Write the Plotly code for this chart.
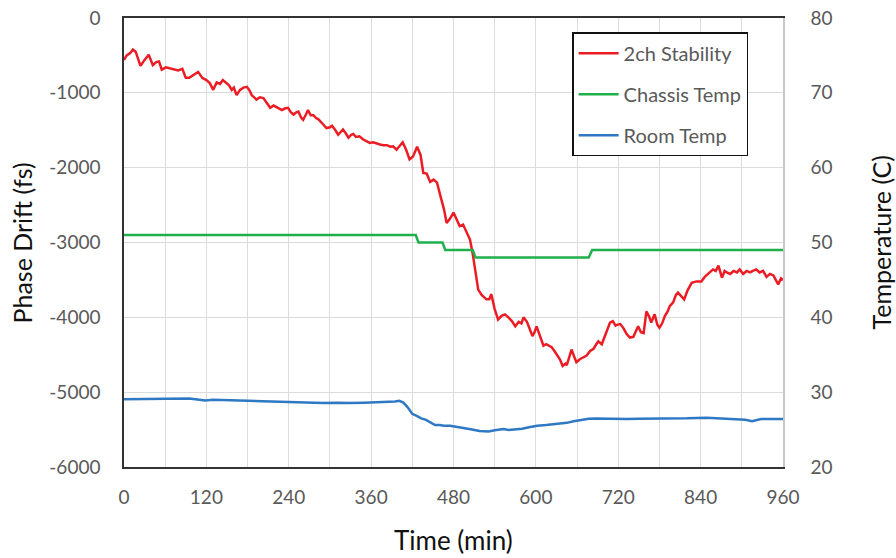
import plotly.graph_objects as go

# ---- data ----
stab_t = [0, 4, 9, 13, 17, 21, 24, 30, 36, 42, 47, 51, 55, 61, 67, 73, 79, 85, 90, 95,
          101, 108, 114, 120, 125, 130, 135, 140, 144, 149, 153, 157, 160, 164, 169, 174,
          179, 183, 186, 193, 198, 203, 208, 213, 218, 222, 226, 230, 234, 239, 243, 247,
          251, 254, 258, 261, 265, 268, 272, 276, 280, 283, 289, 295, 300, 303, 308, 312,
          316, 319, 323, 327, 331, 334, 338, 343, 348, 353, 358, 363, 368, 373, 378, 383,
          388, 392, 397, 402, 406, 411, 416, 421, 427, 432, 436, 441, 446, 451, 456, 461,
          466, 470, 475, 480, 484, 489, 494, 500, 504, 508, 511, 514, 516, 521, 528, 532,
          535, 540, 545, 550, 555, 560, 565, 570, 575, 579, 582, 587, 591, 595, 598, 601,
          606, 611, 615, 619, 623, 627, 630, 635, 639, 643, 645, 649, 652, 656, 659, 664,
          669, 674, 679, 684, 688, 691, 696, 701, 705, 708, 712, 716, 718, 723, 728, 732,
          737, 742, 746, 749, 753, 757, 761, 765, 768, 773, 777, 780, 784, 788, 792, 795,
          800, 804, 807, 812, 816, 821, 827, 834, 841, 846, 851, 858, 862, 866, 871, 875,
          878, 883, 888, 893, 897, 902, 907, 912, 916, 921, 926, 931, 936, 941, 946, 950,
          953, 957, 960]
stab_v = [-560, -500, -470, -420, -450, -560, -640, -560, -490, -630, -590, -580, -690, -660,
          -670, -690, -700, -680, -800, -800, -760, -720, -800, -830, -870, -960, -860, -880,
          -830, -870, -900, -960, -930, -1030, -960, -930, -920, -970, -1030, -1090, -1060,
          -1070, -1130, -1200, -1170, -1190, -1210, -1230, -1210, -1200, -1260, -1290, -1260,
          -1250, -1330, -1360, -1290, -1230, -1300, -1300, -1340, -1350, -1410, -1470, -1460,
          -1440, -1500, -1560, -1520, -1490, -1540, -1600, -1560, -1550, -1590, -1580, -1620,
          -1650, -1670, -1660, -1680, -1690, -1700, -1700, -1720, -1715, -1760, -1700, -1660,
          -1760, -1890, -1850, -1720, -1830, -2070, -2080, -2190, -2160, -2200, -2380, -2550,
          -2740, -2680, -2600, -2680, -2780, -2760, -2870, -2960, -3150, -3320, -3500, -3630,
          -3700, -3760, -3760, -3690, -3890, -4030, -3980, -3960, -4000, -4050, -4120, -4060,
          -4080, -4000, -4060, -4150, -4250, -4200, -4120, -4250, -4380, -4360, -4380, -4400,
          -4450, -4490, -4560, -4650, -4620, -4640, -4500, -4430, -4530, -4600, -4560, -4540,
          -4510, -4450, -4420, -4360, -4320, -4360, -4230, -4150, -4070, -4050, -4110, -4100,
          -4090, -4150, -4220, -4270, -4260, -4180, -4120, -4200, -4210, -3920, -3990, -4070,
          -3960, -4100, -4140, -4080, -3980, -3920, -3850, -3800, -3700, -3670, -3720, -3760,
          -3640, -3540, -3520, -3520, -3460, -3420, -3360, -3380, -3310, -3470, -3380, -3400,
          -3420, -3380, -3400, -3360, -3420, -3380, -3400, -3380, -3360, -3400, -3380, -3460,
          -3420, -3440, -3520, -3560, -3480, -3500]

chassis_t = [0, 425, 429, 464, 468, 508, 512, 677, 682, 960]
chassis_v = [51, 51, 50, 50, 49, 49, 48, 48, 49, 49]

room_t = [0, 20, 50, 80, 95, 110, 118, 130, 140, 160, 180, 200, 220, 238, 260, 290, 310,
          329, 350, 368, 380, 395, 401, 407, 413, 420, 427, 433, 440, 447, 453, 460, 466,
          475, 485, 495, 505, 518, 525, 531, 540, 548, 553, 560, 570, 580, 590, 602, 615,
          625, 635, 645, 655, 667, 677, 687, 700, 715, 733, 750, 770, 797, 820, 849, 870,
          889, 905, 915, 922, 928, 945, 960]
room_v = [29.07, 29.1, 29.16, 29.15, 29.16, 29.0, 28.9, 29.0, 28.97, 28.95, 28.88, 28.85,
          28.75, 28.71, 28.7, 28.55, 28.6, 28.55, 28.6, 28.62, 28.7, 28.75, 28.84, 28.6,
          28.0, 27.1, 26.8, 26.5, 26.3, 25.9, 25.6, 25.6, 25.51, 25.5, 25.37, 25.2, 25.05,
          24.8, 24.75, 24.76, 24.9, 25.0, 25.07, 24.95, 24.98, 25.1, 25.3, 25.5, 25.6, 25.7,
          25.82, 25.9, 26.1, 26.31, 26.45, 26.49, 26.45, 26.5, 26.4, 26.45, 26.45, 26.53,
          26.5, 26.58, 26.5, 26.44, 26.3, 26.13, 26.3, 26.4, 26.4, 26.4]

x_ticks = [0, 120, 240, 360, 480, 600, 720, 840, 960]
y_ticks = [0, -1000, -2000, -3000, -4000, -5000, -6000]
y_ticktext = ["0", "-1000", "-2000", "-3000", "-4000", "-5000", "-6000"]
y2_ticks = [20, 30, 40, 50, 60, 70, 80]

x_title = "Time (min)"
y_title = "Phase Drift (fs)"
y2_title = "Temperature (C)"

RED = "#EC1C24"
GREEN = "#1FB04C"
BLUE = "#2E78C4"
FONT = "Lato"
TICKC = "#595959"
GRID = "#DCDCDC"
TITLEC = "#111111"

fig = go.Figure()
fig.add_trace(go.Scatter(x=stab_t, y=stab_v, mode="lines", name="2ch Stability",
                         line=dict(color=RED, width=2.5), legendgroup="a"))
fig.add_trace(go.Scatter(x=chassis_t, y=chassis_v, mode="lines", name="Chassis Temp",
                         line=dict(color=GREEN, width=2.5), yaxis="y2", legendgroup="b"))
fig.add_trace(go.Scatter(x=room_t, y=room_v, mode="lines", name="Room Temp",
                         line=dict(color=BLUE, width=2.5), yaxis="y2", legendgroup="c"))

fig.update_layout(
    width=896, height=558,
    margin=dict(l=124, r=113, t=18, b=91, autoexpand=False),
    paper_bgcolor="white", plot_bgcolor="white",
    font=dict(family=FONT, color=TICKC, size=19),
    xaxis=dict(range=[0, 960], tickvals=x_ticks, showgrid=True, gridcolor=GRID,
               gridwidth=1, automargin=False,
               minor=dict(dtick=60, tick0=0, showgrid=True, gridcolor=GRID),
               showline=True, linecolor="#333333", linewidth=1.5, mirror=True,
               ticks="", ticklabelstandoff=12, zeroline=False),
    yaxis=dict(range=[-6000, 0], tickvals=y_ticks, ticktext=y_ticktext, showgrid=True,
               gridcolor=GRID, automargin=False,
               showline=True, linecolor="#333333", linewidth=1.5, zeroline=False,
               ticks="", ticklabelstandoff=18),
    yaxis2=dict(range=[20, 80], tickvals=y2_ticks, overlaying="y", side="right",
                showgrid=False, showline=True, linecolor="#C8C8C8", linewidth=1.5,
                zeroline=False, ticks="", ticklabelstandoff=22, automargin=False),
    legend=dict(x=0.68, y=0.968, xanchor="left", yanchor="top",
                bordercolor="#111111", borderwidth=1.5, bgcolor="white",
                font=dict(size=20, color=TICKC), tracegroupgap=12,
                itemwidth=40),
    showlegend=True,
    annotations=[
        dict(text=x_title, xref="paper", yref="paper", x=0.5, y=-0.1626,
             xanchor="center", yanchor="middle", showarrow=False,
             font=dict(size=26, color=TITLEC, family=FONT)),
        dict(text=y_title, xref="paper", yref="paper", x=-0.1548, y=0.5,
             xanchor="center", yanchor="middle", showarrow=False, textangle=-90,
             font=dict(size=25, color=TITLEC, family=FONT)),
        dict(text=y2_title, xref="paper", yref="paper", x=1.1487, y=0.5,
             xanchor="center", yanchor="middle", showarrow=False, textangle=-90,
             font=dict(size=25, color=TITLEC, family=FONT)),
    ],
)

fig.write_html("out.html")
